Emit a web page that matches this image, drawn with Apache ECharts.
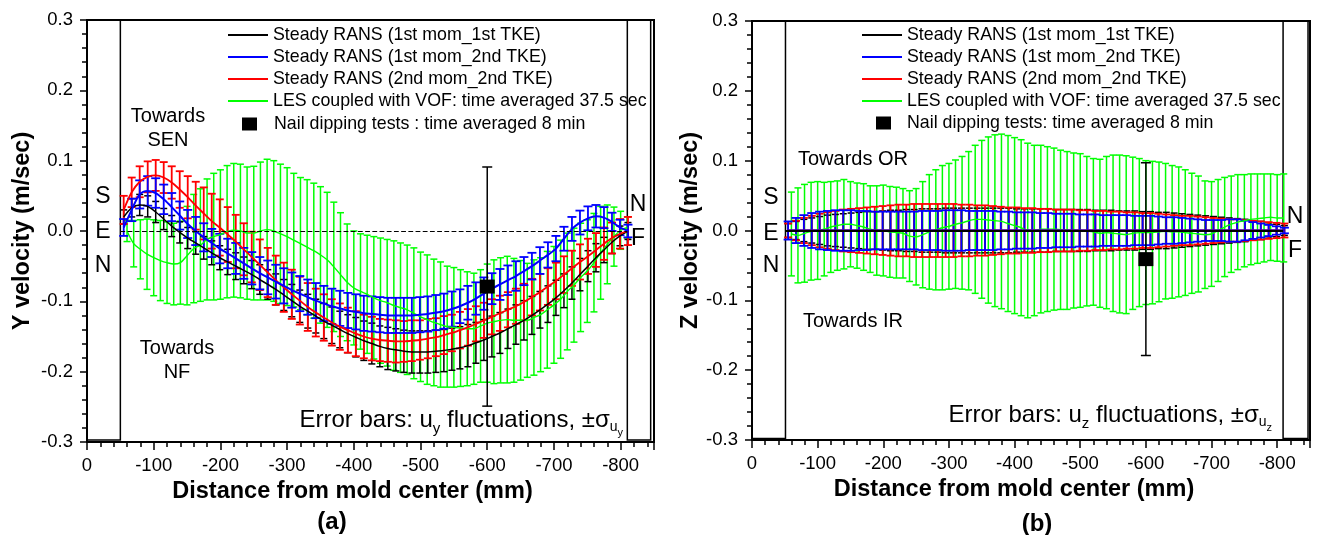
<!DOCTYPE html>
<html>
<head>
<meta charset="utf-8">
<script src="https://cdn.jsdelivr.net/npm/echarts@6.0.0/dist/echarts.min.js"></script>
<style>
  html, body { margin: 0; padding: 0; background: #fff; }
  #chart { width: 1317px; height: 535px; }
</style>
</head>
<body>
<div id="chart"></div>
<script>
// positions along the strand (mm from mold center)
var GREEN_X = [-60, -70, -80, -90, -100, -110, -120, -130, -140, -150, -160, -170, -180, -190, -200, -210, -220, -230, -240, -250,
  -260, -270, -280, -290, -300, -310, -320, -330, -340, -350, -360, -370, -380, -390, -400, -410, -420, -430, -440, -450,
  -460, -470, -480, -490, -500, -510, -520, -530, -540, -550, -560, -570, -580, -590, -600, -610, -620, -630, -640, -650,
  -660, -670, -680, -690, -700, -710, -720, -730, -740, -750, -760, -770, -780, -790, -800, -810];
var RANS_X = [-55, -67, -79, -91, -103, -115, -127, -139, -151, -163, -175, -187, -199, -211, -223, -235, -247, -259, -271, -283,
  -295, -307, -319, -331, -343, -355, -367, -379, -391, -403, -415, -427, -439, -451, -463, -475, -487, -499, -511, -523,
  -535, -547, -559, -571, -583, -595, -607, -619, -631, -643, -655, -667, -679, -691, -703, -715, -727, -739, -751, -763,
  -775, -787, -799, -811];
var NAIL_X = [-600];

// (a) Y velocity
var A_GREEN_MEAN = [0.000, -0.018, -0.026, -0.033, -0.038, -0.042, -0.045, -0.047, -0.045, -0.035,
  -0.025, -0.020, -0.012, -0.008, -0.005, -0.001, 0.001, 0.000, -0.003, -0.003,
  0.000, 0.002, 0.000, -0.004, -0.008, -0.013, -0.018, -0.023, -0.028, -0.034,
  -0.041, -0.051, -0.062, -0.073, -0.081, -0.086, -0.090, -0.095, -0.099, -0.102,
  -0.106, -0.109, -0.112, -0.117, -0.122, -0.126, -0.130, -0.133, -0.136, -0.137,
  -0.138, -0.139, -0.139, -0.135, -0.131, -0.129, -0.127, -0.126, -0.127, -0.127,
  -0.127, -0.123, -0.119, -0.112, -0.105, -0.097, -0.086, -0.077, -0.066, -0.057,
  -0.045, -0.031, -0.019, -0.008, 0.001, 0.005];
var A_GREEN_SD = [0.015, 0.033, 0.042, 0.050, 0.054, 0.057, 0.058, 0.058, 0.059, 0.070,
  0.077, 0.080, 0.086, 0.090, 0.092, 0.094, 0.095, 0.095, 0.094, 0.095,
  0.098, 0.100, 0.100, 0.099, 0.098, 0.095, 0.094, 0.096, 0.096, 0.097,
  0.096, 0.092, 0.088, 0.083, 0.081, 0.082, 0.084, 0.087, 0.089, 0.090,
  0.092, 0.092, 0.092, 0.093, 0.092, 0.092, 0.090, 0.089, 0.086, 0.085,
  0.083, 0.081, 0.079, 0.080, 0.084, 0.088, 0.089, 0.090, 0.088, 0.085,
  0.081, 0.082, 0.081, 0.083, 0.083, 0.084, 0.083, 0.081, 0.077, 0.073,
  0.070, 0.066, 0.056, 0.042, 0.027, 0.015];
var A_BLACK_MEAN = [0.020, 0.033, 0.037, 0.035, 0.027, 0.017, 0.007, -0.002, -0.010, -0.017,
  -0.024, -0.031, -0.038, -0.044, -0.050, -0.056, -0.062, -0.069, -0.076, -0.083,
  -0.091, -0.099, -0.107, -0.114, -0.121, -0.128, -0.134, -0.140, -0.146, -0.151,
  -0.156, -0.160, -0.164, -0.167, -0.169, -0.171, -0.172, -0.172, -0.172, -0.171,
  -0.170, -0.168, -0.166, -0.163, -0.159, -0.155, -0.150, -0.145, -0.139, -0.133,
  -0.127, -0.120, -0.112, -0.104, -0.095, -0.085, -0.074, -0.062, -0.050, -0.038,
  -0.027, -0.016, -0.007, 0.000];
var A_BLACK_SD = [0.010, 0.013, 0.015, 0.015, 0.015, 0.015, 0.015, 0.015, 0.015, 0.016,
  0.016, 0.017, 0.017, 0.018, 0.019, 0.019, 0.020, 0.021, 0.021, 0.022,
  0.022, 0.023, 0.023, 0.024, 0.024, 0.025, 0.026, 0.026, 0.027, 0.028,
  0.028, 0.029, 0.029, 0.030, 0.030, 0.030, 0.030, 0.030, 0.030, 0.030,
  0.030, 0.030, 0.030, 0.030, 0.029, 0.029, 0.029, 0.029, 0.028, 0.028,
  0.028, 0.027, 0.026, 0.026, 0.025, 0.024, 0.023, 0.023, 0.022, 0.020,
  0.018, 0.016, 0.014, 0.012];
var A_RED_MEAN = [0.030, 0.055, 0.070, 0.077, 0.079, 0.076, 0.069, 0.059, 0.048, 0.036,
  0.025, 0.014, 0.005, -0.005, -0.015, -0.026, -0.037, -0.048, -0.059, -0.070,
  -0.080, -0.090, -0.099, -0.108, -0.116, -0.123, -0.130, -0.136, -0.141, -0.146,
  -0.150, -0.153, -0.155, -0.156, -0.157, -0.157, -0.156, -0.155, -0.153, -0.151,
  -0.148, -0.145, -0.141, -0.137, -0.132, -0.127, -0.122, -0.117, -0.112, -0.107,
  -0.101, -0.094, -0.087, -0.079, -0.071, -0.062, -0.053, -0.044, -0.036, -0.027,
  -0.018, -0.010, -0.004, 0.000];
var A_RED_SD = [0.020, 0.021, 0.022, 0.022, 0.022, 0.022, 0.023, 0.026, 0.030, 0.034,
  0.037, 0.039, 0.040, 0.039, 0.038, 0.037, 0.036, 0.036, 0.035, 0.035,
  0.035, 0.035, 0.034, 0.034, 0.034, 0.033, 0.033, 0.033, 0.032, 0.032,
  0.031, 0.031, 0.030, 0.030, 0.030, 0.029, 0.029, 0.028, 0.028, 0.027,
  0.027, 0.026, 0.026, 0.026, 0.025, 0.025, 0.025, 0.025, 0.025, 0.025,
  0.026, 0.026, 0.026, 0.026, 0.026, 0.026, 0.025, 0.025, 0.025, 0.024,
  0.023, 0.022, 0.021, 0.020];
var A_BLUE_MEAN = [0.005, 0.030, 0.052, 0.057, 0.054, 0.045, 0.034, 0.022, 0.010, 0.000,
  -0.009, -0.017, -0.025, -0.032, -0.039, -0.046, -0.053, -0.060, -0.066, -0.072,
  -0.078, -0.084, -0.089, -0.094, -0.099, -0.103, -0.107, -0.110, -0.113, -0.115,
  -0.117, -0.118, -0.119, -0.120, -0.120, -0.120, -0.120, -0.119, -0.118, -0.116,
  -0.114, -0.111, -0.107, -0.102, -0.096, -0.089, -0.082, -0.076, -0.070, -0.064,
  -0.057, -0.050, -0.042, -0.034, -0.025, -0.011, 0.003, 0.012, 0.018, 0.021,
  0.019, 0.013, 0.005, 0.000];
var A_BLUE_SD = [0.012, 0.016, 0.020, 0.021, 0.021, 0.021, 0.020, 0.020, 0.020, 0.020,
  0.020, 0.020, 0.021, 0.021, 0.022, 0.022, 0.023, 0.023, 0.024, 0.024,
  0.025, 0.025, 0.025, 0.025, 0.025, 0.025, 0.025, 0.025, 0.025, 0.025,
  0.025, 0.025, 0.025, 0.025, 0.025, 0.025, 0.025, 0.025, 0.025, 0.025,
  0.025, 0.025, 0.024, 0.024, 0.023, 0.023, 0.022, 0.022, 0.021, 0.021,
  0.020, 0.019, 0.019, 0.018, 0.018, 0.017, 0.017, 0.017, 0.017, 0.016,
  0.015, 0.013, 0.011, 0.009];
var A_NAIL_MEAN = [-0.079];
var A_NAIL_SD = [0.170];

// (b) Z velocity
var B_GREEN_MEAN = [-0.005, -0.007, -0.004, -0.001, 0.000, 0.002, 0.005, 0.007, 0.009, 0.009,
  0.007, 0.005, 0.002, 0.000, 0.000, -0.002, -0.003, -0.004, -0.008, -0.009,
  -0.006, -0.002, 0.001, 0.004, 0.006, 0.009, 0.011, 0.014, 0.016, 0.016,
  0.015, 0.014, 0.013, 0.010, 0.007, 0.004, 0.000, 0.000, 0.002, 0.002,
  0.002, 0.001, 0.000, 0.000, 0.000, -0.001, -0.002, -0.004, -0.003, -0.004,
  -0.005, -0.006, -0.004, -0.003, -0.003, -0.003, -0.002, -0.001, -0.002, -0.002,
  -0.003, -0.004, -0.005, -0.006, -0.005, 0.000, 0.005, 0.009, 0.012, 0.014,
  0.016, 0.017, 0.018, 0.019, 0.018, 0.018];
var B_GREEN_SD = [0.060, 0.068, 0.070, 0.070, 0.070, 0.067, 0.065, 0.064, 0.064, 0.061,
  0.061, 0.062, 0.062, 0.064, 0.065, 0.065, 0.065, 0.064, 0.065, 0.069,
  0.076, 0.082, 0.086, 0.089, 0.090, 0.092, 0.095, 0.099, 0.106, 0.113,
  0.119, 0.123, 0.125, 0.126, 0.126, 0.126, 0.125, 0.122, 0.120, 0.118,
  0.116, 0.114, 0.113, 0.111, 0.110, 0.107, 0.105, 0.106, 0.109, 0.112,
  0.113, 0.113, 0.109, 0.106, 0.103, 0.102, 0.100, 0.097, 0.095, 0.093,
  0.090, 0.086, 0.083, 0.077, 0.075, 0.073, 0.071, 0.069, 0.068, 0.066,
  0.065, 0.064, 0.063, 0.062, 0.062, 0.063];
var B_BLACK_MEAN = [0, 0, 0, 0, 0, 0, 0, 0, 0, 0, 0, 0, 0, 0, 0, 0, 0, 0, 0, 0,
  0, 0, 0, 0, 0, 0, 0, 0, 0, 0, 0, 0, 0, 0, 0, 0, 0, 0, 0, 0,
  0, 0, 0, 0, 0, 0, 0, 0, 0, 0, 0, 0, 0, 0, 0, 0, 0, 0, 0, 0, 0, 0, 0, 0];
var B_BLACK_SD = [0.010, 0.013, 0.016, 0.018, 0.020, 0.022, 0.023, 0.024, 0.025, 0.026,
  0.027, 0.027, 0.028, 0.029, 0.029, 0.030, 0.030, 0.031, 0.031, 0.031,
  0.032, 0.032, 0.032, 0.032, 0.032, 0.032, 0.032, 0.032, 0.032, 0.031,
  0.031, 0.031, 0.031, 0.031, 0.030, 0.030, 0.030, 0.030, 0.030, 0.029,
  0.029, 0.029, 0.028, 0.028, 0.028, 0.027, 0.027, 0.026, 0.026, 0.025,
  0.024, 0.023, 0.022, 0.021, 0.020, 0.019, 0.018, 0.017, 0.016, 0.014,
  0.013, 0.011, 0.009, 0.007];
var B_RED_MEAN = [0, 0, 0, 0, 0, 0, 0, 0, 0, 0, 0, 0, 0, 0, 0, 0, 0, 0, 0, 0,
  0, 0, 0, 0, 0, 0, 0, 0, 0, 0, 0, 0, 0, 0, 0, 0, 0, 0, 0, 0,
  0, 0, 0, 0, 0, 0, 0, 0, 0, 0, 0, 0, 0, 0, 0, 0, 0, 0, 0, 0, 0, 0, 0, 0];
var B_RED_SD = [0.010, 0.014, 0.018, 0.021, 0.024, 0.026, 0.028, 0.030, 0.031, 0.032,
  0.033, 0.034, 0.035, 0.036, 0.037, 0.037, 0.038, 0.038, 0.038, 0.038,
  0.038, 0.038, 0.037, 0.037, 0.036, 0.036, 0.035, 0.034, 0.033, 0.033,
  0.032, 0.032, 0.031, 0.031, 0.030, 0.030, 0.030, 0.029, 0.029, 0.028,
  0.028, 0.027, 0.027, 0.026, 0.026, 0.025, 0.025, 0.024, 0.023, 0.022,
  0.021, 0.021, 0.020, 0.019, 0.018, 0.017, 0.016, 0.016, 0.015, 0.014,
  0.013, 0.012, 0.011, 0.010];
var B_BLUE_MEAN = [0, 0, 0, 0, 0, 0, 0, 0, 0, 0, 0, 0, 0, 0, 0, 0, 0, 0, 0, 0,
  0, 0, 0, 0, 0, 0, 0, 0, 0, 0, 0, 0, 0, 0, 0, 0, 0, 0, 0, 0,
  0, 0, 0, 0, 0, 0, 0, 0, 0, 0, 0, 0, 0, 0, 0, 0, 0, 0, 0, 0, 0, 0, 0, 0];
var B_BLUE_SD = [0.013, 0.018, 0.022, 0.025, 0.027, 0.028, 0.029, 0.029, 0.029, 0.028,
  0.028, 0.027, 0.027, 0.027, 0.027, 0.027, 0.027, 0.028, 0.028, 0.028,
  0.029, 0.029, 0.029, 0.028, 0.028, 0.028, 0.028, 0.027, 0.027, 0.026,
  0.026, 0.026, 0.025, 0.025, 0.024, 0.024, 0.024, 0.023, 0.023, 0.023,
  0.022, 0.022, 0.022, 0.022, 0.021, 0.021, 0.021, 0.020, 0.019, 0.019,
  0.018, 0.017, 0.016, 0.015, 0.015, 0.015, 0.016, 0.016, 0.014, 0.012,
  0.010, 0.008, 0.006, 0.004];
var B_NAIL_MEAN = [-0.041];
var B_NAIL_SD = [0.138];

// SEN / NF regions [x from, x to, y from, y to]
var A_ZONES = [[0, -50, -0.297, 0.3], [-810, -845, -0.297, 0.3]];
var B_ZONES = [[0, -51, -0.298, 0.3], [-809, -847, -0.298, 0.3]];
var A_ZERO = [-50, -810];
var B_ZERO = [-51, -809];

var NAMES = ['Steady RANS (1st mom_1st TKE)', 'Steady RANS (1st mom_2nd TKE)',
  'Steady RANS (2nd mom_2nd TKE)', 'LES coupled with VOF: time averaged 37.5 sec'];
var NAIL_A = 'Nail dipping tests : time averaged 8 min';
var NAIL_B = 'Nail dipping tests: time averaged 8 min';

var FONT = "'Liberation Sans', Arial, sans-serif";
var BLACK = '#000000', BLUE = '#0000ff', RED = '#ff0000', GREEN = '#00ff00';

function errSeries(gi, x, mean, sd, color, lw, cap, z) {
  return {
    type: 'custom', xAxisIndex: gi, yAxisIndex: gi, silent: true, z: z || 2,
    encode: { x: 0, y: [1, 2] },
    data: x.map(function (v, i) { return [v, mean[i] - sd[i], mean[i] + sd[i]]; }),
    renderItem: function (params, api) {
      var xv = api.value(0);
      var lo = api.coord([xv, api.value(1)]);
      var hi = api.coord([xv, api.value(2)]);
      var h = cap / 2;
      function seg(x1, y1, x2, y2) {
        return { type: 'line', shape: { x1: x1, y1: y1, x2: x2, y2: y2 }, style: { stroke: color, lineWidth: lw } };
      }
      return {
        type: 'group', children: [
          seg(hi[0], hi[1], lo[0], lo[1]),
          seg(hi[0] - h, hi[1], hi[0] + h, hi[1]),
          seg(lo[0] - h, lo[1], lo[0] + h, lo[1])
        ]
      };
    }
  };
}

function meanSeries(gi, name, x, mean, color, lw) {
  return {
    type: 'line', name: name, xAxisIndex: gi, yAxisIndex: gi, silent: true,
    smooth: 0.3, symbol: 'none', lineStyle: { color: color, width: lw }, itemStyle: { color: color },
    data: x.map(function (v, i) { return [v, mean[i]]; })
  };
}

function zoneSeries(gi, zones) {
  return {
    type: 'custom', xAxisIndex: gi, yAxisIndex: gi, silent: true, z: 1,
    data: zones,
    renderItem: function (params, api) {
      var p1 = api.coord([api.value(0), api.value(3)]);
      var p2 = api.coord([api.value(1), api.value(2)]);
      return {
        type: 'rect',
        shape: { x: Math.min(p1[0], p2[0]), y: p1[1], width: Math.abs(p2[0] - p1[0]), height: p2[1] - p1[1] },
        style: { fill: 'none', stroke: '#000', lineWidth: 1.5 }
      };
    }
  };
}

function panel(gi, d) {
  return [
    zoneSeries(gi, d.zones),
    errSeries(gi, GREEN_X, d.gm, d.gs, GREEN, 1.5, 7),
    meanSeries(gi, NAMES[3], GREEN_X, d.gm, GREEN, 1.4),
    errSeries(gi, RANS_X, d.km, d.ks, BLACK, 1.5, 7),
    meanSeries(gi, NAMES[0], RANS_X, d.km, BLACK, 1.5),
    errSeries(gi, RANS_X, d.rm, d.rs, RED, 1.8, 8),
    meanSeries(gi, NAMES[2], RANS_X, d.rm, RED, 1.8),
    errSeries(gi, RANS_X, d.bm, d.bs, BLUE, 1.8, 9),
    meanSeries(gi, NAMES[1], RANS_X, d.bm, BLUE, 2),
    errSeries(gi, NAIL_X, d.nm, d.ns, BLACK, 1.5, 10, 4),
    {
      type: 'scatter', name: d.nailName, xAxisIndex: gi, yAxisIndex: gi, silent: true, z: 5,
      symbol: 'rect', symbolSize: [15, 14], itemStyle: { color: '#000', opacity: 1 },
      data: NAIL_X.map(function (v, i) { return [v, d.nm[i]]; }),
      markLine: {
        silent: true, symbol: ['none', 'none'], label: { show: false },
        lineStyle: d.zeroStyle,
        data: [[{ coord: [d.zero[0], 0] }, { coord: [d.zero[1], 0] }]]
      }
    }
  ];
}

function xAxis(gi, shift) {
  return {
    type: 'value', gridIndex: gi, min: -850, max: 0, inverse: true, splitNumber: 9,
    axisLine: { show: true, onZero: false, lineStyle: { color: '#000', width: 2 } },
    axisTick: { show: true, length: 8, lineStyle: { color: '#000', width: 1.5 } },
    minorTick: { show: true, splitNumber: 5, length: 5, lineStyle: { color: '#000', width: 1.5 } },
    splitLine: { show: false },
    axisLabel: { color: '#000', fontSize: 18.5, fontFamily: FONT, margin: 14, showMinLabel: false },
    name: 'Distance from mold center (mm)', nameLocation: 'middle', nameGap: 34,
    nameTextStyle: { color: '#000', fontSize: 23.5, fontWeight: 'bold', fontFamily: FONT, padding: [0, shift, 0, 0] }
  };
}

function yAxis(gi, name, gap) {
  return {
    type: 'value', gridIndex: gi, min: -0.3, max: 0.3, interval: 0.1,
    axisLine: { show: true, onZero: false, lineStyle: { color: '#000', width: 2 } },
    axisTick: { show: true, length: 7, lineStyle: { color: '#000', width: 1.5 } },
    minorTick: { show: true, splitNumber: 5, length: 5, lineStyle: { color: '#000', width: 1.5 } },
    splitLine: { show: false },
    axisLabel: {
      color: '#000', fontSize: 18.5, fontFamily: FONT, margin: 14,
      formatter: function (v) { return Math.abs(v) < 1e-9 ? '0.0' : v.toFixed(1); }
    },
    name: name, nameLocation: 'middle', nameGap: gap,
    nameTextStyle: { color: '#000', fontSize: 23.5, fontWeight: 'bold', fontFamily: FONT }
  };
}

function lineLegend(left) {
  return {
    left: left, top: 26, orient: 'vertical', padding: 0, itemGap: 4,
    itemWidth: 40, itemHeight: 2, icon: 'rect', selectedMode: false,
    textStyle: { color: '#000', fontSize: 17.8, fontFamily: FONT },
    data: [NAMES[0], NAMES[1], NAMES[2], NAMES[3]]
  };
}
function nailLegend(left, top, name, shift) {
  return {
    left: left, top: top, orient: 'vertical', padding: 0,
    itemWidth: 15, itemHeight: 13, selectedMode: false,
    textStyle: { color: '#000', fontSize: 17.8, fontFamily: FONT, padding: [0, 0, 0, shift] },
    data: [{ name: name, icon: 'rect' }]
  };
}

function txt(s, x, y, size, bold) {
  return {
    type: 'text', x: x, y: y, silent: true,
    style: { text: s, fontSize: size, fontFamily: FONT, fontWeight: bold ? 'bold' : 'normal', fill: '#000', align: 'center', verticalAlign: 'middle' }
  };
}
function errText(x, y, sub) {
  return {
    type: 'text', x: x, y: y, silent: true,
    style: {
      text: 'Error bars: u{s1|' + sub + '} fluctuations, \u00b1\u03c3{s2|u}{s3|' + sub + '}',
      fontSize: 24, fontFamily: FONT, fill: '#000', lineHeight: 32, align: 'right', verticalAlign: 'middle',
      rich: {
        s1: { fontSize: 15, fontFamily: FONT, verticalAlign: 'top', padding: [17, 0, 0, 0] },
        s2: { fontSize: 14, fontFamily: FONT, verticalAlign: 'top', padding: [16, 0, 0, 0] },
        s3: { fontSize: 11, fontFamily: FONT, verticalAlign: 'top', padding: [23, 0, 0, 0] }
      }
    }
  };
}

var chart = echarts.init(document.getElementById('chart'), null, { renderer: 'canvas' });
chart.setOption({
  animation: false,
  backgroundColor: '#fff',
  grid: [
    { left: 87, top: 20, width: 567, height: 422, show: true, borderColor: '#000', borderWidth: 2, outerBoundsMode: 'none' },
    { left: 752, top: 21, width: 558, height: 419, show: true, borderColor: '#000', borderWidth: 2, outerBoundsMode: 'none' }
  ],
  xAxis: [xAxis(0, 36), xAxis(1, 34)],
  yAxis: [yAxis(0, 'Y velocity (m/sec)', 52), yAxis(1, 'Z velocity (m/sec)', 49)],
  legend: [
    lineLegend(228), nailLegend(242, 115, NAIL_A, 12),
    lineLegend(862), nailLegend(876, 114, NAIL_B, 11)
  ],
  series: panel(0, {
    zones: A_ZONES, zero: A_ZERO, zeroStyle: { color: '#000', width: 1.2, type: 'dashed' },
    gm: A_GREEN_MEAN, gs: A_GREEN_SD, km: A_BLACK_MEAN, ks: A_BLACK_SD,
    rm: A_RED_MEAN, rs: A_RED_SD, bm: A_BLUE_MEAN, bs: A_BLUE_SD,
    nm: A_NAIL_MEAN, ns: A_NAIL_SD, nailName: NAIL_A
  }).concat(panel(1, {
    zones: B_ZONES, zero: B_ZERO, zeroStyle: { color: '#000', width: 2, type: 'solid' },
    gm: B_GREEN_MEAN, gs: B_GREEN_SD, km: B_BLACK_MEAN, ks: B_BLACK_SD,
    rm: B_RED_MEAN, rs: B_RED_SD, bm: B_BLUE_MEAN, bs: B_BLUE_SD,
    nm: B_NAIL_MEAN, ns: B_NAIL_SD, nailName: NAIL_B
  })),
  graphic: [
    txt('S', 103, 197, 23), txt('E', 103, 232, 23), txt('N', 103, 266, 23),
    txt('N', 638, 205, 23), txt('F', 638, 239, 23),
    txt('Towards', 168, 116, 20), txt('SEN', 168, 140, 20),
    txt('Towards', 177, 348, 20), txt('NF', 177, 372, 20),
    errText(623, 420, 'y'),
    txt('(a)', 332, 522, 24, true),
    txt('S', 771, 198, 23), txt('E', 771, 234, 23), txt('N', 771, 266, 23),
    txt('N', 1295, 217, 23), txt('F', 1295, 251, 23),
    txt('Towards OR', 853, 159, 20), txt('Towards IR', 853, 321, 20),
    errText(1272, 415, 'z'),
    txt('(b)', 1037, 524, 24, true)
  ]
});
</script>
</body>
</html>
